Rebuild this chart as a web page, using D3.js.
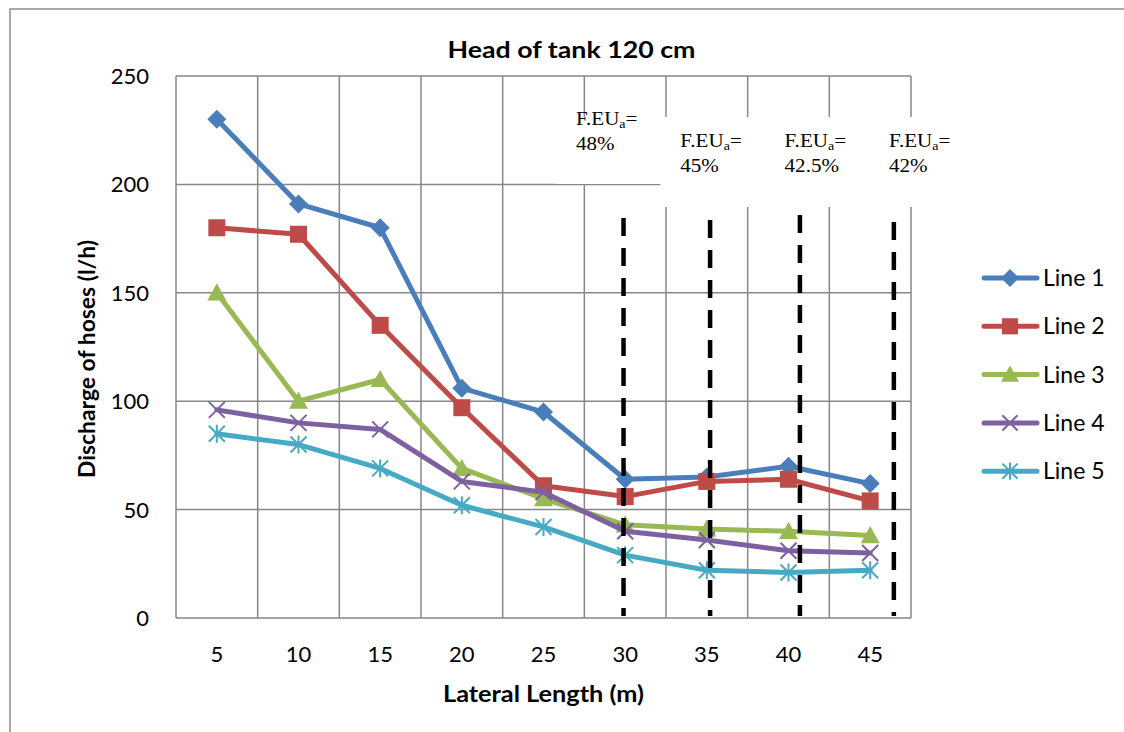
<!DOCTYPE html>
<html>
<head>
<meta charset="utf-8">
<script src="https://cdn.jsdelivr.net/npm/d3@7"></script>
<style>
  html, body { margin: 0; padding: 0; background: #fff; }
  svg { display: block; }
  .tick-label { font-family: Lato, "Open Sans", sans-serif; font-size: 22px; fill: #000; }
  .legend-label { font-family: Lato, "Open Sans", sans-serif; font-size: 23px; fill: #000; }
  .axis-title { font-family: Lato, "Open Sans", sans-serif; font-size: 22px; font-weight: bold; fill: #000; }
  .note { font-family: "Liberation Serif", "DejaVu Serif", serif; font-size: 18px; fill: #000; }
</style>
</head>
<body>
<div id="chart"></div>
<script>
(function() {
  'use strict';

  var
    lengths = [5, 10, 15, 20, 25, 30, 35, 40, 45],
    line1 = [230, 191, 180, 106, 95, 64, 65, 70, 62],
    line2 = [180, 177, 135, 97, 61, 56, 63, 64, 54],
    line3 = [150, 100, 110, 69, 55, 43, 41, 40, 38],
    line4 = [96, 90, 87, 63, 58, 40, 36, 31, 30],
    line5 = [85, 80, 69, 52, 42, 29, 22, 21, 22],
    seriesNames = ['Line 1', 'Line 2', 'Line 3', 'Line 4', 'Line 5'],
    yTicks = [0, 50, 100, 150, 200, 250],

    // F.EUa notes: where the dashed cut-off line sits on the length axis
    feuValues = ['48%', '45%', '42.5%', '42%'],
    feuCutAt = [29.9, 35.2, 40.7, 46.45];

  var
    WIDTH = 1124,
    HEIGHT = 732,
    COLORS = ['#4a7ebb', '#be4b48', '#98b954', '#7d60a0', '#46aac5'],
    MARKERS = ['diamond', 'square', 'triangle', 'cross', 'star'],
    plot = {left: 176, top: 76, right: 911, bottom: 618},
    series = [line1, line2, line3, line4, line5];

  var svg = d3.select('#chart')
    .append('svg')
    .attr('width', WIDTH)
    .attr('height', HEIGHT);

  // chart area border, runs off the right and bottom of the picture
  svg.append('path')
    .attr('d', 'M10,' + (HEIGHT + 5) + 'V9H' + (WIDTH + 5))
    .attr('fill', 'none')
    .attr('stroke', '#8c8c8c')
    .attr('stroke-width', 1.5);

  var x = d3.scaleBand()
    .domain(lengths)
    .range([plot.left, plot.right])
    .padding(0);

  var bw = x.bandwidth();

  function cx(v) {
    return x(v) + bw / 2;
  }

  var xLin = d3.scaleLinear()
    .domain([lengths[0], lengths[lengths.length - 1]])
    .range([cx(lengths[0]), cx(lengths[lengths.length - 1])]);

  var y = d3.scaleLinear()
    .domain([0, 250])
    .range([plot.bottom, plot.top]);

  // grid
  var grid = svg.append('g')
    .attr('stroke', '#878787')
    .attr('stroke-width', 1.5);

  grid.selectAll('line.h')
    .data(yTicks)
    .enter()
    .append('line')
    .attr('class', 'h')
    .attr('x1', plot.left)
    .attr('x2', plot.right)
    .attr('y1', function(d) { return y(d); })
    .attr('y2', function(d) { return y(d); });

  grid.selectAll('line.v')
    .data(lengths.concat(['end']))
    .enter()
    .append('line')
    .attr('class', 'v')
    .attr('x1', function(d) { return d === 'end' ? plot.right : x(d); })
    .attr('x2', function(d) { return d === 'end' ? plot.right : x(d); })
    .attr('y1', plot.top)
    .attr('y2', plot.bottom);

  // tick labels
  svg.append('g')
    .selectAll('text')
    .data(yTicks)
    .enter()
    .append('text')
    .attr('class', 'tick-label')
    .attr('x', 149)
    .attr('y', function(d) { return y(d) + 8; })
    .attr('text-anchor', 'end')
    .text(function(d) { return d; });

  svg.append('g')
    .selectAll('text')
    .data(lengths)
    .enter()
    .append('text')
    .attr('class', 'tick-label')
    .attr('x', function(d) { return cx(d); })
    .attr('y', 662)
    .attr('text-anchor', 'middle')
    .text(function(d) { return d; });

  // titles
  svg.append('text')
    .attr('class', 'axis-title')
    .attr('x', 571.5)
    .attr('y', 58)
    .attr('text-anchor', 'middle')
    .attr('textLength', 248)
    .attr('lengthAdjust', 'spacingAndGlyphs')
    .text('Head of tank 120 cm');

  svg.append('text')
    .attr('class', 'axis-title')
    .attr('x', 543.5)
    .attr('y', 702)
    .attr('text-anchor', 'middle')
    .attr('textLength', 201)
    .attr('lengthAdjust', 'spacingAndGlyphs')
    .text('Lateral Length (m)');

  svg.append('text')
    .attr('class', 'axis-title')
    .attr('transform', 'translate(95,359) rotate(-90)')
    .attr('text-anchor', 'middle')
    .attr('textLength', 238)
    .attr('lengthAdjust', 'spacingAndGlyphs')
    .text('Discharge of hoses (l/h)');

  // markers
  function drawMarker(g, type, color, px, py, s) {
    s = s || 1;
    if (type === 'diamond') {
      var r = 9.5 * s;
      g.append('path')
        .attr('d', 'M' + px + ',' + (py - r) + 'L' + (px + r) + ',' + py +
              'L' + px + ',' + (py + r) + 'L' + (px - r) + ',' + py + 'Z')
        .attr('fill', color);
    } else if (type === 'square') {
      var h = 8.5 * s;
      g.append('rect')
        .attr('x', px - h).attr('y', py - h)
        .attr('width', 2 * h).attr('height', 2 * h)
        .attr('fill', color);
    } else if (type === 'triangle') {
      var t = 9.5 * s;
      g.append('path')
        .attr('d', 'M' + px + ',' + (py - t) + 'L' + (px + t) + ',' + (py + t * 0.8) +
              'L' + (px - t) + ',' + (py + t * 0.8) + 'Z')
        .attr('fill', color);
    } else {
      var c = 8 * s, p = 'M' + (px - c) + ',' + (py - c) + 'L' + (px + c) + ',' + (py + c) +
              'M' + (px + c) + ',' + (py - c) + 'L' + (px - c) + ',' + (py + c);
      if (type === 'star') {
        p += 'M' + px + ',' + (py - c - 1) + 'L' + px + ',' + (py + c + 1);
      }
      g.append('path')
        .attr('d', p)
        .attr('stroke', color)
        .attr('stroke-width', 2)
        .attr('fill', 'none');
    }
  }

  var lineGen = d3.line()
    .x(function(d, i) { return cx(lengths[i]); })
    .y(function(d) { return y(d); });

  var marks = svg.append('g');

  series.forEach(function(values, si) {
    var g = marks.append('g');

    g.append('path')
      .attr('d', lineGen(values))
      .attr('fill', 'none')
      .attr('stroke', COLORS[si])
      .attr('stroke-width', 5)
      .attr('stroke-linejoin', 'round')
      .attr('stroke-linecap', 'round');

    values.forEach(function(v, i) {
      drawMarker(g, MARKERS[si], COLORS[si], cx(lengths[i]), y(v));
    });
  });

  // F.EUa notes with white boxes, then dashed cut-off lines
  var notes = svg.append('g');

  feuValues.forEach(function(val, i) {
    var tx = 576 + i * 104.3,
        first = i === 0,
        top = first ? 125 : 147,
        g = notes.append('g');

    g.append('rect')
      .attr('x', tx - 20)
      .attr('y', 117)
      .attr('width', 106)
      .attr('height', first ? 67 : 90)
      .attr('fill', '#fff');

    // text in the reference is drawn a bit wide, stretch it sideways
    var tg = g.append('g')
      .attr('transform', 'translate(' + tx + ',0) scale(1.17,1)');

    var t1 = tg.append('text')
      .attr('class', 'note')
      .attr('x', 0)
      .attr('y', top);
    t1.append('tspan').text('F.EU');
    t1.append('tspan').attr('font-size', 12).attr('dy', 3).text('a');
    t1.append('tspan').attr('dy', -3).text('=');

    tg.append('text')
      .attr('class', 'note')
      .attr('x', 0)
      .attr('y', top + 25)
      .text(val);
  });

  svg.append('g')
    .selectAll('line')
    .data(feuCutAt)
    .enter()
    .append('line')
    .attr('x1', function(d) { return xLin(d); })
    .attr('x2', function(d) { return xLin(d); })
    .attr('y1', function(d, i) { return [218, 220, 215, 222][i]; })
    .attr('y2', plot.bottom - 2)
    .attr('stroke', '#000')
    .attr('stroke-width', 4.5)
    .attr('stroke-dasharray', '18,12');

  // legend
  var legend = svg.append('g');

  seriesNames.forEach(function(name, i) {
    var ly = 278 + i * 48.3,
        g = legend.append('g');

    g.append('line')
      .attr('x1', 984).attr('x2', 1037)
      .attr('y1', ly).attr('y2', ly)
      .attr('stroke', COLORS[i])
      .attr('stroke-width', 5)
      .attr('stroke-linecap', 'round');

    drawMarker(g, MARKERS[i], COLORS[i], 1010, ly, 0.95);

    g.append('text')
      .attr('class', 'legend-label')
      .attr('x', 1043)
      .attr('y', ly + 8)
      .text(name);
  });
})();
</script>
</body>
</html>
